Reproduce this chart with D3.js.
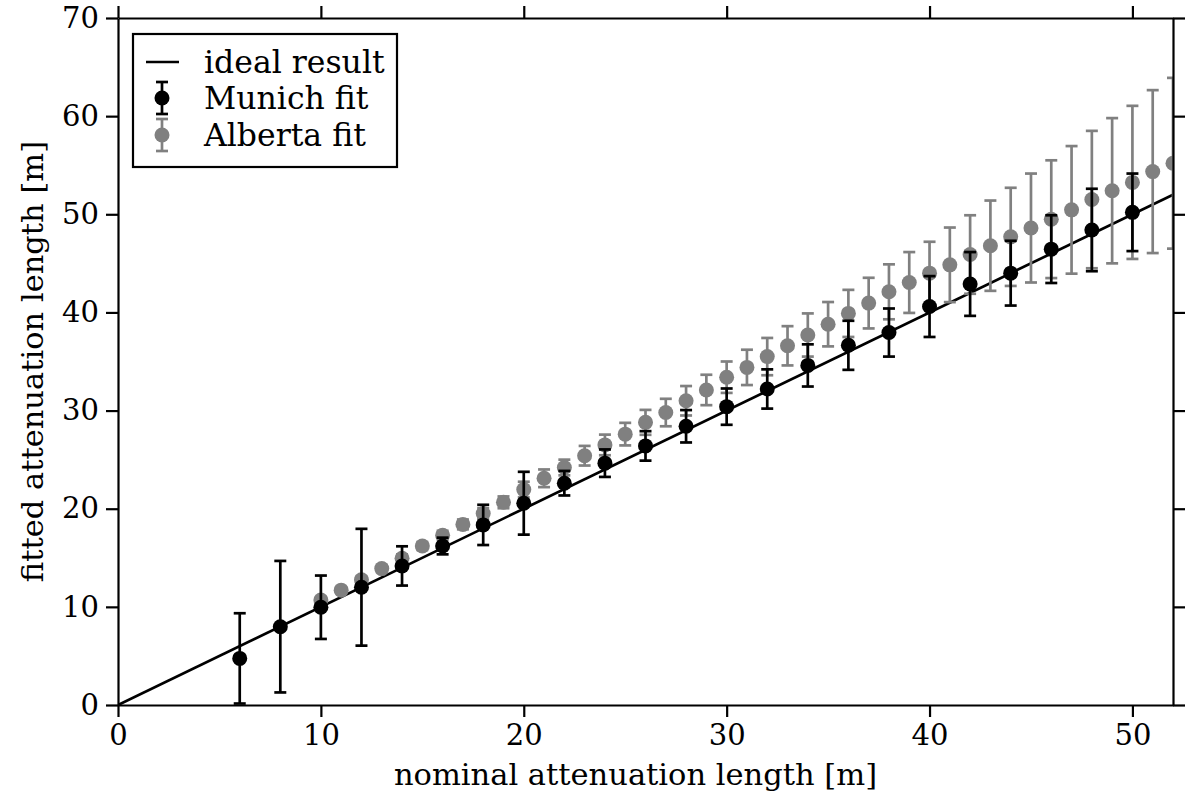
<!DOCTYPE html>
<head>
  <style>
    body { margin: 0; background: #fff; }
    text { font-family: "DejaVu Serif", serif; }
    .axis text { font-size: 29px; fill: #000; }
    .axis path, .axis line { stroke: #000; stroke-width: 2.2px; }
  </style>
</head>
<body>
  <script src="https://cdn.jsdelivr.net/npm/d3@7"></script>
  <script>
    // nominal vs fitted attenuation lengths
    var munichX = [6, 8, 10, 12, 14, 16, 18, 20, 22, 24, 26, 28, 30, 32, 34, 36, 38, 40, 42, 44, 46, 48, 50];
    var munichY = [4.75, 7.98, 9.96, 12.0, 14.17, 16.2, 18.35, 20.56, 22.6, 24.64, 26.4, 28.4, 30.4, 32.2,
                   34.6, 36.65, 37.95, 40.6, 42.9, 44.0, 46.45, 48.4, 50.2];
    var munichErr = [4.6, 6.7, 3.23, 5.95, 2.0, 0.85, 2.05, 3.2, 1.25, 1.4, 1.5, 1.65, 1.85, 2.0,
                     2.15, 2.5, 2.45, 3.1, 3.25, 3.3, 3.45, 4.2, 3.95];

    var albertaX = [10, 11, 12, 13, 14, 15, 16, 17, 18, 19, 20, 21, 22, 23, 24, 25, 26, 27, 28, 29, 30,
                    31, 32, 33, 34, 35, 36, 37, 38, 39, 40, 41, 42, 43, 44, 45, 46, 47, 48, 49, 50, 51, 52];
    var albertaY = [10.7, 11.7, 12.75, 13.9, 14.95, 16.2, 17.3, 18.4, 19.5, 20.65, 21.95, 23.1, 24.2, 25.4,
                    26.5, 27.6, 28.8, 29.8, 31.0, 32.1, 33.4, 34.4, 35.5, 36.6, 37.7, 38.8, 39.9, 40.95,
                    42.1, 43.05, 44.0, 44.85, 45.9, 46.8, 47.7, 48.6, 49.5, 50.45, 51.5, 52.4, 53.25, 54.35, 55.2];
    var albertaErr = [0.3, 0.3, 0.35, 0.35, 0.4, 0.4, 0.45, 0.5, 0.55, 0.6, 0.8, 0.9, 0.8, 1.0, 1.05, 1.15,
                      1.27, 1.4, 1.5, 1.55, 1.6, 1.8, 1.9, 2.0, 2.2, 2.26, 2.4, 2.58, 2.8, 3.1, 3.2, 3.8,
                      4.0, 4.6, 5.0, 5.55, 6.0, 6.5, 7.0, 7.4, 7.8, 8.3, 8.7];

    var idealLine = [0, 52];
    var xTicks = [0, 10, 20, 30, 40, 50];
    var yTicks = [0, 10, 20, 30, 40, 50, 60, 70];
    var legendLabels = ["ideal result", "Munich fit", "Alberta fit"];

    var margin = {top: 18, right: 16, bottom: 91, left: 118},
        width = 1189 - margin.left - margin.right,
        height = 796 - margin.top - margin.bottom;

    var lw = 2.7;

    var x = d3.scaleLinear().domain([0, 52]).range([0, width]);
    var y = d3.scaleLinear().domain([0, 70]).range([height, 0]);

    var svg = d3.select("body").append("svg")
        .attr("width", 1189)
        .attr("height", 796)
      .append("g")
        .attr("transform", "translate(" + margin.left + "," + margin.top + ")");

    svg.append("clipPath").attr("id", "clip")
      .append("rect").attr("width", width).attr("height", height);

    var plot = svg.append("g").attr("clip-path", "url(#clip)");

    // ideal line y = x
    plot.append("line")
        .attr("x1", x(idealLine[0])).attr("y1", y(idealLine[0]))
        .attr("x2", x(idealLine[1])).attr("y2", y(idealLine[1]))
        .attr("stroke", "#000").attr("stroke-width", lw);

    function drawSeries(xs, ys, errs, color) {
      var g = plot.append("g");
      var data = xs.map(function(d, i) { return {x: d, y: ys[i], e: errs[i]}; });
      g.selectAll(".eb").data(data).enter().append("line")
          .attr("x1", function(d) { return x(d.x); })
          .attr("x2", function(d) { return x(d.x); })
          .attr("y1", function(d) { return y(d.y - d.e); })
          .attr("y2", function(d) { return y(d.y + d.e); })
          .attr("stroke", color).attr("stroke-width", lw);
      [-1, 1].forEach(function(s) {
        g.selectAll(".cap").data(data).enter().append("line")
            .attr("x1", function(d) { return x(d.x) - 6; })
            .attr("x2", function(d) { return x(d.x) + 6; })
            .attr("y1", function(d) { return y(d.y + s * d.e); })
            .attr("y2", function(d) { return y(d.y + s * d.e); })
            .attr("stroke", color).attr("stroke-width", lw);
      });
      g.selectAll("circle").data(data).enter().append("circle")
          .attr("cx", function(d) { return x(d.x); })
          .attr("cy", function(d) { return y(d.y); })
          .attr("r", 7.5)
          .attr("fill", color);
    }

    drawSeries(albertaX, albertaY, albertaErr, "#808080");
    drawSeries(munichX, munichY, munichErr, "#000");

    // axes, ticks pointing out on all sides
    svg.append("g").attr("class", "axis")
        .attr("transform", "translate(0," + height + ")")
        .call(d3.axisBottom(x).tickValues(xTicks).tickSize(12).tickPadding(7).tickSizeOuter(0));
    svg.append("g").attr("class", "axis")
        .call(d3.axisTop(x).tickValues(xTicks).tickSize(12).tickSizeOuter(0).tickFormat(""));
    svg.append("g").attr("class", "axis")
        .call(d3.axisLeft(y).tickValues(yTicks).tickSize(12).tickPadding(7).tickSizeOuter(0));
    svg.append("g").attr("class", "axis")
        .attr("transform", "translate(" + width + ",0)")
        .call(d3.axisRight(y).tickValues(yTicks).tickSize(12).tickSizeOuter(0).tickFormat(""));

    svg.append("text")
        .attr("x", width / 2 - 10)
        .attr("y", height + 80)
        .attr("text-anchor", "middle")
        .style("font-size", "30.5px")
        .text("nominal attenuation length [m]");

    svg.append("text")
        .attr("transform", "rotate(-90)")
        .attr("x", -height / 2)
        .attr("y", -75)
        .attr("text-anchor", "middle")
        .style("font-size", "30.5px")
        .text("fitted attenuation length [m]");

    // legend
    var leg = svg.append("g").attr("transform", "translate(15,16)");
    leg.append("rect")
        .attr("width", 264).attr("height", 133)
        .attr("fill", "#fff").attr("stroke", "#000").attr("stroke-width", 2.2);
    var rowY = [28, 64, 101];
    leg.append("line")
        .attr("x1", 13).attr("x2", 46).attr("y1", rowY[0]).attr("y2", rowY[0])
        .attr("stroke", "#000").attr("stroke-width", lw);
    [["#000", rowY[1]], ["#808080", rowY[2]]].forEach(function(p) {
      leg.append("line").attr("x1", 29).attr("x2", 29).attr("y1", p[1] - 16).attr("y2", p[1] + 16)
          .attr("stroke", p[0]).attr("stroke-width", lw);
      [-16, 16].forEach(function(o) {
        leg.append("line").attr("x1", 23).attr("x2", 35).attr("y1", p[1] + o).attr("y2", p[1] + o)
            .attr("stroke", p[0]).attr("stroke-width", lw);
      });
      leg.append("circle").attr("cx", 29).attr("cy", p[1]).attr("r", 7.5).attr("fill", p[0]);
    });
    leg.selectAll(".lt").data(legendLabels).enter().append("text")
        .attr("x", 71)
        .attr("y", function(d, i) { return rowY[i]; })
        .attr("dy", "0.35em")
        .style("font-size", "31.5px")
        .text(function(d) { return d; });
  </script>
</body>
